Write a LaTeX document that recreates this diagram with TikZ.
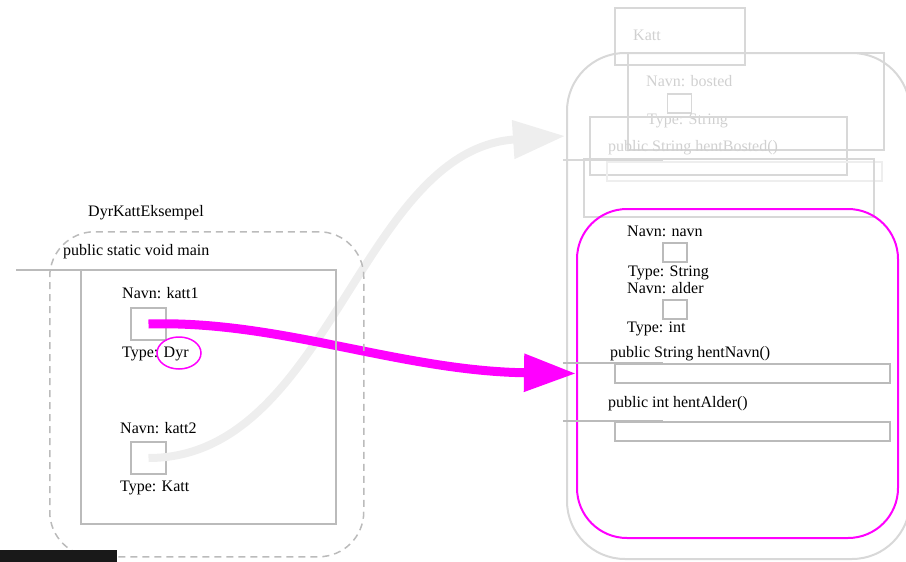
\documentclass[tikz,border=0pt]{standalone}
\usepackage{fontspec}
\setmainfont{Liberation Serif}
\usetikzlibrary{arrows.meta,shapes.geometric,positioning}
\definecolor{strek}{HTML}{BBBBBB}
\definecolor{blek}{HTML}{D8D8D8}
\definecolor{blektekst}{HTML}{D0D0D0}
\definecolor{svak}{HTML}{EEEEEE}
\definecolor{lilla}{HTML}{FF00FF}
\tikzset{
  txt/.style = {anchor=base west, inner sep=0pt,
    font=\fontsize{16}{18}\selectfont},
  blektxt/.style = {txt, text=blektekst},
  ramme/.style = {draw=strek, line width=1.5pt, inner sep=0pt,
    anchor=north west},% metode / objekt
  blekramme/.style = {ramme, draw=blek},
  felt/.style = {draw=strek, line width=1.5pt, inner sep=0pt,
    minimum width=35pt, minimum height=32pt},% variabel, stor
  lite_felt/.style = {felt, minimum width=24pt, minimum height=19pt},% variabel, liten
  stub/.style = {draw=strek, line width=1.5pt}
}

\begin{document}
\begin{tikzpicture}[x=1pt,y=-1pt]
        \useasboundingbox (0,0) rectangle (906,562);

        % klassen med main
        \node [txt](kl) at (88,216){DyrKattEksempel};
        \node [txt](mn) at (63,255){public static void main};
        \node [txt](n1) at (122,298){Navn: katt1};
        \node [felt](k1) at (148.5,324){};
        \node [txt](t1) at (122,357){Type: Dyr};
        \node [txt](n2) at (120,433){Navn: katt2};
        \node [felt](k2) at (148.5,458){};
        \node [txt](t2) at (120,491){Type: Katt};

        % objektet (Katt) paa hoeyre side
        \node [blekramme, line width=2pt, rounded corners=58pt,
          minimum width=343pt, minimum height=506pt](katt) at (566,52){};
        \node [blekramme, minimum width=130pt, minimum height=57pt](kh) at (614,7){};
        \node [blektxt](kn) at (633,41){Katt};
        \node [blekramme, minimum width=256pt, minimum height=97pt](bo) at (627,52){};
        \node [blektxt](bn) at (646,86){Navn: bosted};
        \node [lite_felt, draw=blek](bf) at (679.5,103.5){};
        \node [blektxt](bt) at (647,124){Type: String};
        \node [blekramme, minimum width=257pt, minimum height=58pt](hb) at (589,116){};
        \node [blektxt](hbn) at (608,151){public String hentBosted()};
        \node [blekramme, draw=svak, minimum width=275pt, minimum height=19pt](hbk) at (606,161){};
        \node [blekramme, minimum width=290pt, minimum height=58pt](dy) at (583,158){};
        \draw [stub, draw=blek] (563,160) -- (663,160);
        \coordinate (inn) at (565,136);

        % Dyr-delen
        \node [ramme, draw=lilla, line width=2pt, rounded corners=50pt,
          minimum width=321pt, minimum height=329pt](dyr) at (576,208){};
        \node [txt](nn) at (627,236){Navn: navn};
        \node [lite_felt](fn) at (675,252.5){};
        \node [txt](tn) at (628,276){Type: String};
        \node [txt](na) at (627,293){Navn: alder};
        \node [lite_felt](fa) at (675,309.5){};
        \node [txt](ta) at (627,332){Type: int};
        \node [txt](hn) at (610,357){public String hentNavn()};
        \node [ramme, minimum width=275pt, minimum height=19pt](hnk) at (614,363){};
        \draw [stub] (563,363) -- (663,363);
        \node [txt](ha) at (608,407){public int hentAlder()};
        \node [ramme, minimum width=275pt, minimum height=19pt](hak) at (614,421){};
        \draw [stub] (563,421) -- (663,421);

        % referansene
        \draw [svak, line width=8pt, -{Triangle[length=52pt,width=37pt]}]
          (k2.center) .. controls +(181,0) and +(-205,14) .. (inn);
        \draw [lilla, line width=9pt, -{Triangle[length=52pt,width=36pt]}]
          (k1.center) .. controls +(131,-4) and +(-176,-2.5) .. (dyr.west);

        % rammer over pilene
        \node [ramme, dashed, dash pattern=on 7pt off 5pt, rounded corners=45pt,
          minimum width=314pt, minimum height=325pt](kls) at (49,231){};
        \node [ramme, minimum width=255pt, minimum height=254pt](main) at (80,269){};
        \draw [stub] (16,270) -- (116,270);
        \node [ellipse, draw=lilla, line width=1.5pt, minimum width=44pt,
          minimum height=32pt](ring) at (179,353){};

        \fill [black!90] (0,550) rectangle (117,562);

        \end{tikzpicture}
\end{document}
